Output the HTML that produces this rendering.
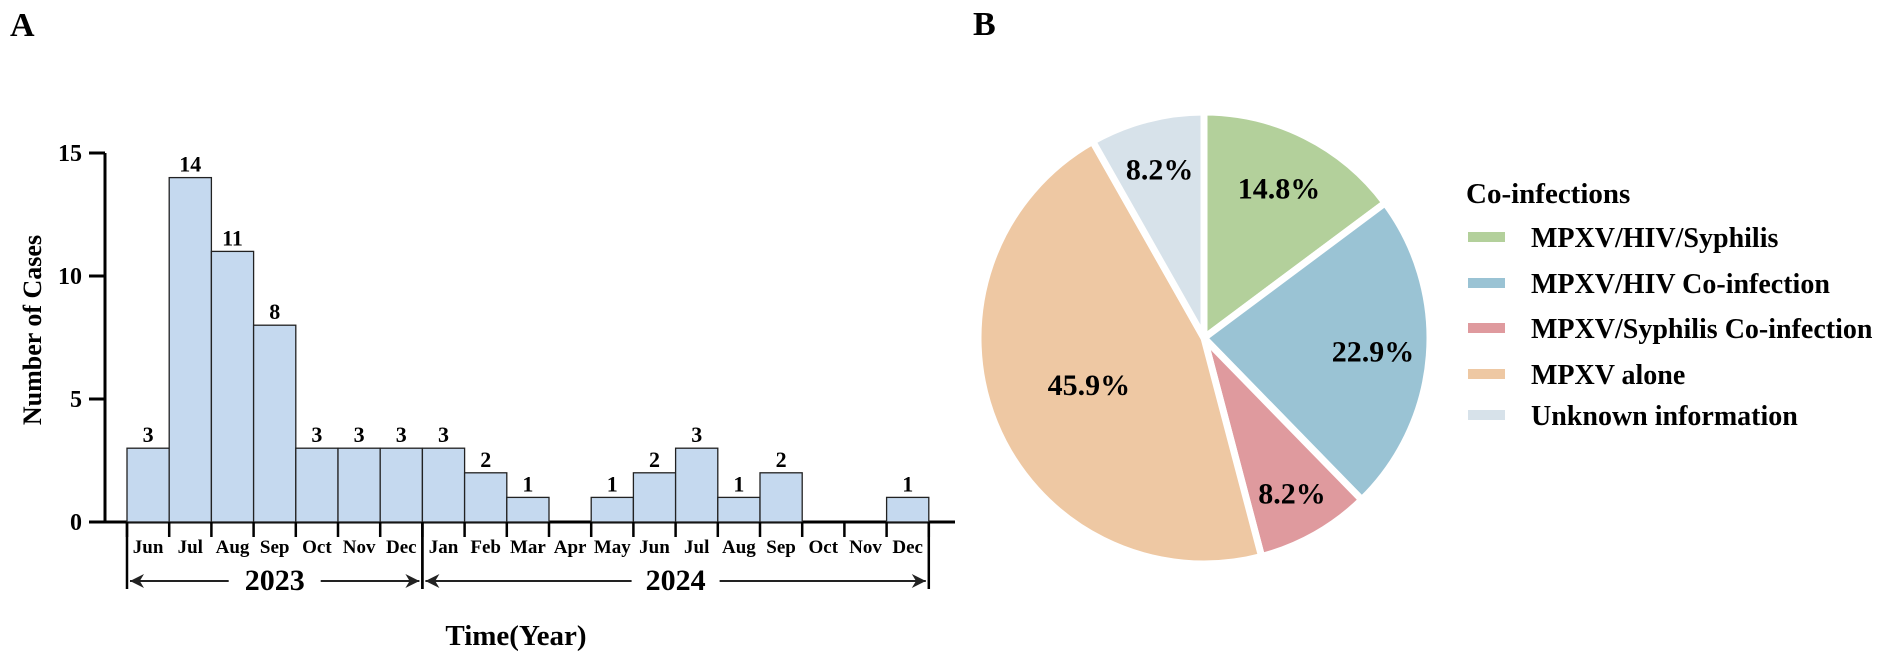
<!DOCTYPE html>
<html><head><meta charset="utf-8"><style>
html,body{margin:0;padding:0;background:#fff}
svg{display:block;font-family:"Liberation Serif",serif;font-weight:bold}
</style></head><body>
<svg id="fig" width="1902" height="661" viewBox="0 0 1902 661" xmlns="http://www.w3.org/2000/svg">
<text x="10" y="36" font-size="34">A</text>
<text x="973" y="35" font-size="34">B</text>
<g id="bar"></g>
<g id="pie"></g>
<g id="legend"></g>
</svg>
<script>
const months = ["Jun","Jul","Aug","Sep","Oct","Nov","Dec","Jan","Feb","Mar","Apr","May","Jun","Jul","Aug","Sep","Oct","Nov","Dec"];
const cases = [3,14,11,8,3,3,3,3,2,1,0,1,2,3,1,2,0,0,1];
const yTicks = [0,5,10,15];
const years = ["2023","2024"];
const yearSpans = [[0,7],[7,19]];
const pieLabels = ["MPXV/HIV/Syphilis","MPXV/HIV Co-infection","MPXV/Syphilis Co-infection","MPXV alone","Unknown information"];
const pieValues = [14.8,22.9,8.2,45.9,8.2];
const pieColors = ["#b3d09b","#9ac3d4","#df9a9e","#eec8a3","#d7e2ea"];

const NS="http://www.w3.org/2000/svg";
function mk(parent,tag,attrs,txt){const e=document.createElementNS(NS,tag);for(const k in attrs)e.setAttribute(k,attrs[k]);if(txt!==undefined)e.textContent=txt;parent.appendChild(e);return e;}

// bar chart
const bar=document.getElementById('bar');
const x0=127, slot=42.2, yBase=522, unit=24.6, axisX=105;
const xs=i=>x0+i*slot;
const ys=v=>yBase-v*unit;
let el=mk(bar,'line',{x1:axisX,y1:ys(15),x2:axisX,y2:yBase,stroke:'#000','stroke-width':3});


el=mk(bar,'line',{x1:axisX-2,y1:yBase,x2:955,y2:yBase,stroke:'#000','stroke-width':3});


yTicks.forEach(t=>{
  const tk=mk(bar,'line',{x1:89,y1:ys(t),x2:axisX,y2:ys(t),stroke:'#000','stroke-width':3});
  
  
  const tl=mk(bar,'text',{x:82,y:ys(t)+8,'font-size':24,'text-anchor':'end'},String(t));
  
  
});
el=mk(bar,'text',{x:0,y:0,'font-size':26,'text-anchor':'middle',transform:'translate(41,330) rotate(-90)'},'Number of Cases');


cases.forEach((v,i)=>{
  if(v>0){
    const r=mk(bar,'rect',{x:xs(i),y:ys(v),width:slot,height:v*unit,fill:'#c5d9ef',stroke:'#222','stroke-width':1.3});
    
    
    const t=mk(bar,'text',{x:xs(i)+slot/2,y:ys(v)-6,'font-size':22,'text-anchor':'middle'},String(v));
    
    
  }
});
for(let i=0;i<=months.length;i++){
  const tk=mk(bar,'line',{x1:xs(i),y1:yBase,x2:xs(i),y2:537,stroke:'#000','stroke-width':2.5});
  
  
}
months.forEach((m,i)=>{
  const t=mk(bar,'text',{x:xs(i)+slot/2,y:553,'font-size':19,'text-anchor':'middle'},m);
  
  
});
mk(bar,'defs',{}).innerHTML='<marker id="ah" viewBox="0 0 10 10" refX="10" refY="5" markerWidth="9" markerHeight="7" orient="auto-start-reverse"><path d="M0,0 L10,5 L0,10 L3,5 z" fill="#222"/></marker>';
yearSpans.forEach((s,k)=>{
  const a=xs(s[0]), b=xs(s[1]), c=(a+b)/2;
  [a,b].forEach(xx=>{
    const l=mk(bar,'line',{x1:xx,y1:yBase,x2:xx,y2:589,stroke:'#000','stroke-width':2.5});
    
    
  });
  const hw=k===0?46:44;
  let ar=mk(bar,'line',{x1:c-hw,y1:581,x2:a+3,y2:581,stroke:'#222','stroke-width':2,'marker-end':'url(#ah)'});
  
  
  ar=mk(bar,'line',{x1:c+hw,y1:581,x2:b-3,y2:581,stroke:'#222','stroke-width':2,'marker-end':'url(#ah)'});
  
  
  const t=mk(bar,'text',{x:c,y:590,'font-size':30,'text-anchor':'middle'},years[k]);
  
  
});
el=mk(bar,'text',{x:516,y:645,'font-size':29,'text-anchor':'middle'},'Time(Year)');



// pie
const pie=document.getElementById('pie');
const cx=1204, cy=338, R=226;
const labelR=[0.74,0.75,0.79,0.55,0.77];
const total=pieValues.reduce((a,b)=>a+b,0);
let ang=-Math.PI/2;
pieValues.forEach((v,i)=>{
  const sweep=v/total*2*Math.PI, a2=ang+sweep;
  const p1=[cx+R*Math.cos(ang),cy+R*Math.sin(ang)], p2=[cx+R*Math.cos(a2),cy+R*Math.sin(a2)];
  const d=`M${cx},${cy} L${p1[0]},${p1[1]} A${R},${R} 0 ${sweep>Math.PI?1:0} 1 ${p2[0]},${p2[1]} Z`;
  const s=mk(pie,'path',{d:d,fill:pieColors[i],stroke:'#fff','stroke-width':7,'stroke-linejoin':'miter'});
  
  
  const mid=(ang+a2)/2, lr=R*labelR[i];
  const t=mk(pie,'text',{x:cx+lr*Math.cos(mid),y:cy+lr*Math.sin(mid)+10,'font-size':30,'text-anchor':'middle'},v.toFixed(1)+'%');
  
  
  ang=a2;
});

// legend
const lg=document.getElementById('legend');
el=mk(lg,'text',{x:1466,y:203,'font-size':29},'Co-infections');


const ly=[237,283,328,374,415];
pieLabels.forEach((l,i)=>{
  const sw=mk(lg,'rect',{x:1468,y:ly[i]-5,width:37,height:10,fill:pieColors[i]});
  
  
  const t=mk(lg,'text',{x:1531,y:ly[i]+10,'font-size':28},l);
  
  
});
</script>
</body></html>
